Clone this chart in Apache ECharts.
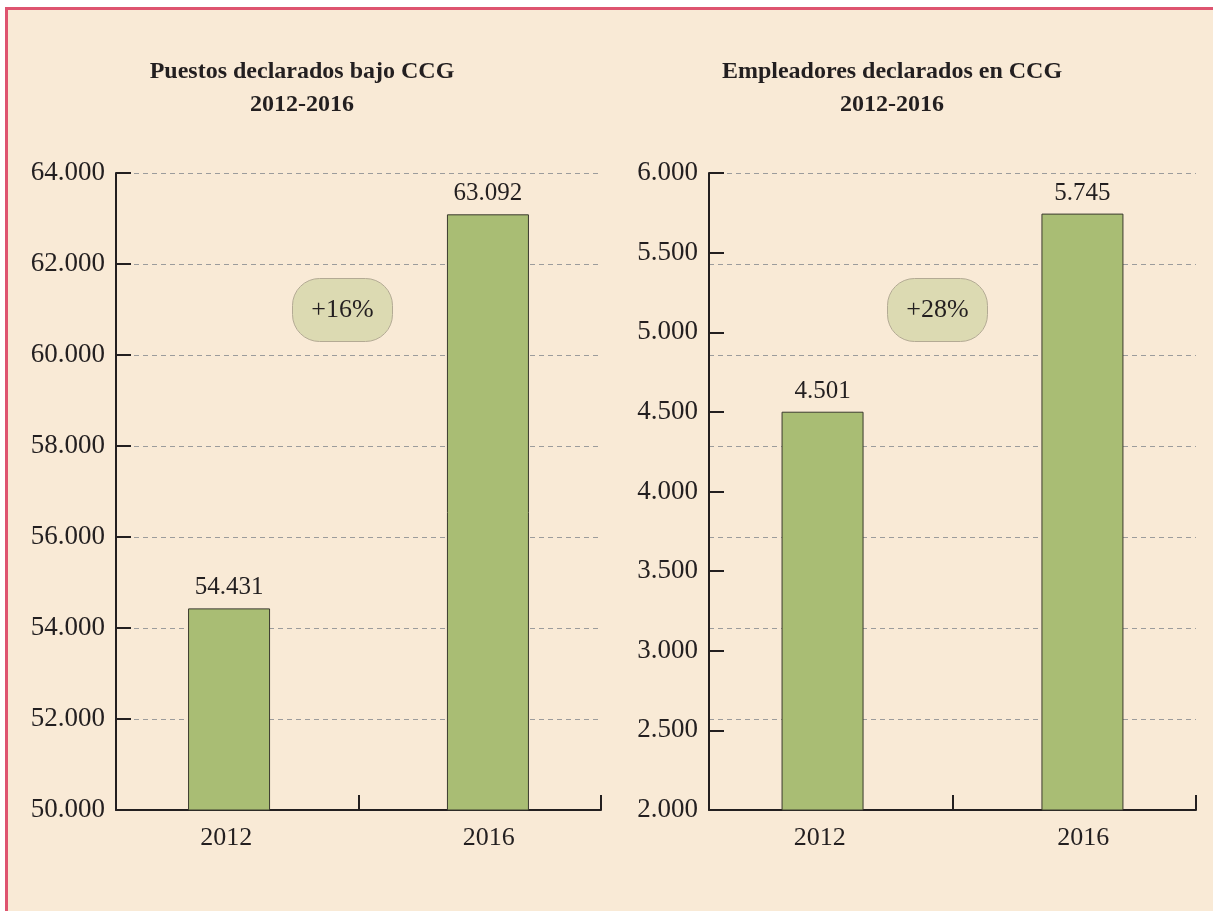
<!DOCTYPE html>
<html>
<head>
<meta charset="utf-8">
<script src="https://cdn.jsdelivr.net/npm/echarts@6/dist/echarts.min.js"></script>
<style>
  html, body { margin: 0; padding: 0; background: #ffffff; }
  #frame {
    position: absolute; left: 5px; top: 7px; width: 1220px; height: 920px;
    background: #f9ead6; border-left: 3px solid #de5470; border-top: 3px solid #de5470;
  }
  #chart { position: absolute; left: 0; top: 0; width: 1213px; height: 911px; }
</style>
</head>
<body>
<div id="frame"></div>
<div id="chart"></div>
<script>
// datos
const years = ["2012", "2016"];
const puestos = [54431, 63092];
const empleadores = [4501, 5745];
const titulos = ["Puestos declarados bajo CCG\n2012-2016", "Empleadores declarados en CCG\n2012-2016"];
const variaciones = ["+16%", "+28%"];

const serif = "Liberation Serif";
const ink = "#231f20";

// 54431 -> "54.431"
function fmt(v) {
    return String(v).replace(/\B(?=(\d{3})+(?!\d))/g, ".");
}

const chart = echarts.init(document.getElementById("chart"), null, { renderer: "canvas" });

function axisY(gridIndex, min, max, interval) {
    return {
        type: "value",
        gridIndex: gridIndex,
        min: min,
        max: max,
        interval: interval,
        axisLine: { show: true, lineStyle: { color: ink, width: 2 } },
        axisTick: { show: true, inside: true, length: 15, lineStyle: { color: ink, width: 2 } },
        axisLabel: { color: ink, fontFamily: serif, fontSize: 27, margin: 11, formatter: fmt },
        splitLine: { show: gridIndex === 0, lineStyle: { color: "#9c9c9c", type: [5, 4], width: 1 } }
    };
}

function axisX(gridIndex) {
    return {
        type: "category",
        gridIndex: gridIndex,
        data: years,
        axisLine: { show: true, lineStyle: { color: ink, width: 2 } },
        axisTick: { show: true, inside: true, length: 15, lineStyle: { color: ink, width: 2 } },
        axisLabel: {
            color: ink, fontFamily: serif, fontSize: 26, margin: 15,
            // en el original el año queda bajo la barra, algo desplazado del centro
            formatter: (v, i) => (i === 0 ? "{a|" + v + "}" : "{b|" + v + "}"),
            rich: {
                a: { fontFamily: serif, fontSize: 26, color: ink, padding: [0, 22, 0, 0] },
                b: { fontFamily: serif, fontSize: 26, color: ink, padding: [0, 0, 0, 18] }
            }
        }
    };
}

// una serie por año para poder separar un poco las barras del centro
function barSeries(idx, data) {
    return data.map((v, k) => ({
        type: "bar",
        xAxisIndex: idx,
        yAxisIndex: idx,
        data: data.map((w, j) => (j === k ? w : "-")),
        barWidth: 82,
        barGap: "-80%",
        itemStyle: { color: "#a9bd74", borderColor: "#3b3a2e", borderWidth: 1 },
        label: {
            show: true,
            position: "top",
            distance: 8,
            color: ink,
            fontFamily: serif,
            fontSize: 25,
            formatter: p => fmt(p.value)
        },
        z: 3
    }));
}

function badge(cx, text) {
    return {
        type: "group",
        left: cx - 50,
        top: 278,
        children: [
            {
                type: "rect",
                shape: { x: 0, y: 0, width: 100, height: 63, r: 27 },
                style: { fill: "#dcdab2", stroke: "#b3aa94", lineWidth: 1 }
            },
            {
                type: "text",
                x: 50,
                y: 32,
                style: {
                    text: text, fill: ink, font: "26px '" + serif + "'",
                    textAlign: "center", textVerticalAlign: "middle"
                }
            }
        ]
    };
}

chart.setOption({
    backgroundColor: "transparent",
    animation: false,
    title: [
        {
            text: titulos[0], left: 297, top: 50, textAlign: "center",
            textStyle: { fontFamily: serif, fontWeight: "bold", fontSize: 24, lineHeight: 33, color: ink }
        },
        {
            text: titulos[1], left: 887, top: 50, textAlign: "center",
            textStyle: { fontFamily: serif, fontWeight: "bold", fontSize: 24, lineHeight: 33, color: ink }
        }
    ],
    grid: [
        { left: 116, top: 173, right: 612, bottom: 101 },
        { left: 709, top: 173, right: 17, bottom: 101 }
    ],
    xAxis: [axisX(0), axisX(1)],
    yAxis: [
        axisY(0, 50000, 64000, 2000),
        axisY(1, 2000, 6000, 500),
        // las líneas punteadas del panel derecho siguen la rejilla del izquierdo
        {
            type: "value", gridIndex: 1, min: 0, max: 7, interval: 1,
            axisLine: { show: false }, axisTick: { show: false }, axisLabel: { show: false },
            splitLine: { show: true, lineStyle: { color: "#9c9c9c", type: [5, 4], width: 1 } }
        }
    ],
    series: barSeries(0, puestos).concat(barSeries(1, empleadores)),
    graphic: [badge(342, variaciones[0]), badge(937, variaciones[1])]
});
</script>
</body>
</html>
